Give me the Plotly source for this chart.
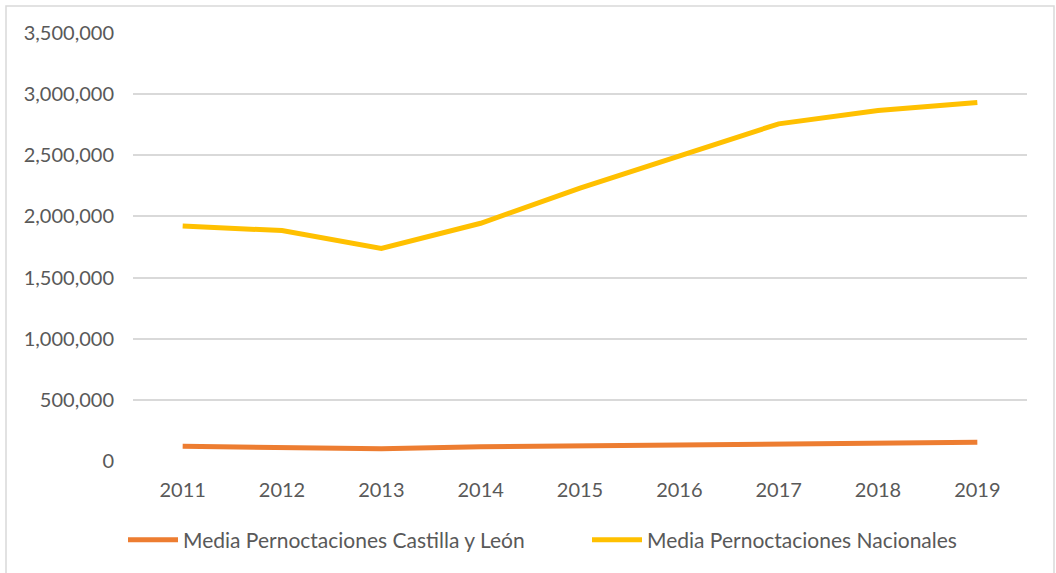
import plotly.graph_objects as go

years = ["2011", "2012", "2013", "2014", "2015", "2016", "2017", "2018", "2019"]
castilla_leon = [120000, 112000, 101000, 116000, 123000, 133000, 141000, 151000, 153000]
nacionales = [1922000, 1884000, 1739000, 1944000, 2232000, 2494000, 2757000, 2866000, 2932000]
y_ticks = [0, 500000, 1000000, 1500000, 2000000, 2500000, 3000000, 3500000]
y_tick_labels = ["0", "500,000", "1,000,000", "1,500,000", "2,000,000", "2,500,000", "3,000,000", "3,500,000"]

FONT = "Lato"
GRAY = "#595959"

fig = go.Figure()
fig.add_trace(go.Scatter(x=years, y=castilla_leon, mode="lines",
                         name="Media Pernoctaciones Castilla y León",
                         line=dict(color="#ED7D31", width=5)))
fig.add_trace(go.Scatter(x=years, y=nacionales, mode="lines",
                         name="Media Pernoctaciones Nacionales",
                         line=dict(color="#FFC000", width=5)))

fig.update_layout(
    width=1056, height=573,
    margin=dict(l=133, r=29, t=33, b=112),
    paper_bgcolor="white", plot_bgcolor="white",
    font=dict(family=FONT, size=20, color=GRAY),
    showlegend=True,
    legend=dict(orientation="h", x=-10/894, xanchor="left", y=-79/428, yanchor="middle",
                font=dict(family=FONT, size=21, color=GRAY),
                entrywidth=399, itemwidth=50),
    xaxis=dict(type="category", range=[-0.5, 8.5], showgrid=False, zeroline=False,
               showline=False, ticks="", ticklabelstandoff=15,
               tickfont=dict(family=FONT, size=20, color=GRAY)),
    yaxis=dict(range=[0, 3500000], tickvals=y_ticks, ticktext=y_tick_labels,
               showgrid=True, gridcolor="#D9D9D9", gridwidth=1.5, zeroline=False,
               showline=False, ticks="", ticklabelstandoff=18,
               tickfont=dict(family=FONT, size=20, color=GRAY)),
    shapes=[dict(type="rect", xref="paper", yref="paper",
                 x0=-127/894, x1=1+27/894, y0=-130/428, y1=1+27/428,
                 line=dict(color="#D9D9D9", width=1.5), fillcolor="rgba(0,0,0,0)",
                 layer="below")],
)

fig.write_html("out.html", config={"displayModeBar": False},
               post_script="document.body.style.margin='0';document.body.style.overflow='hidden';")
